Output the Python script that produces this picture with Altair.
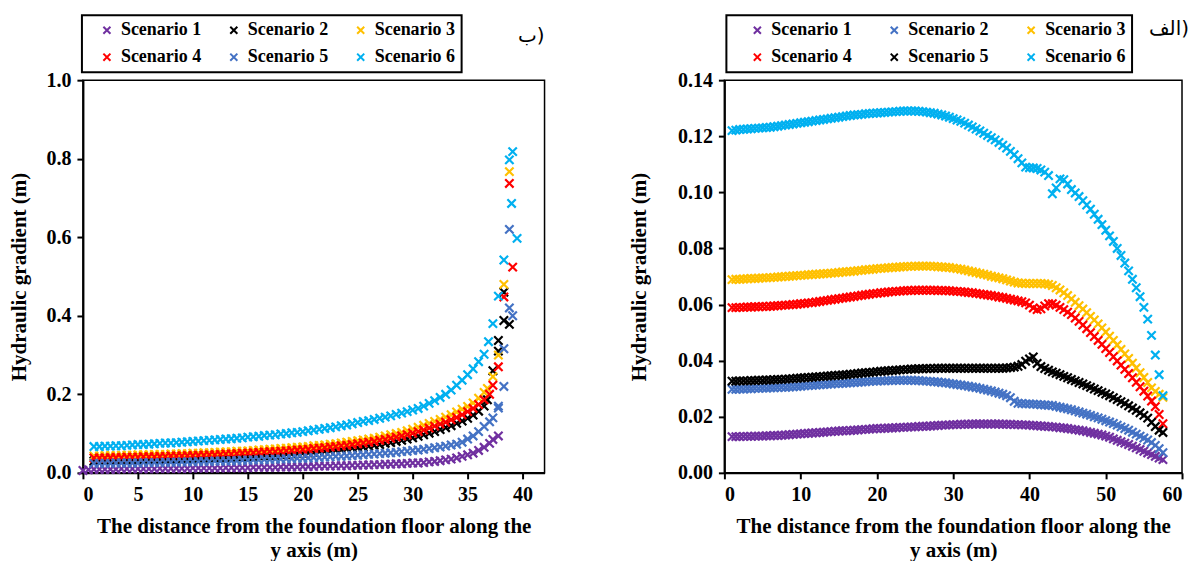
import altair as alt
import pandas as pd

SCEN = ["Scenario 1", "Scenario 2", "Scenario 3", "Scenario 4", "Scenario 5", "Scenario 6"]
LEFT_COLORS = ["#7030A0", "#000000", "#FFC000", "#FF0000", "#4472C4", "#00B0F0"]
RIGHT_COLORS = ["#7030A0", "#4472C4", "#FFC000", "#FF0000", "#000000", "#00B0F0"]

# ---------------- Left panel (ب) ----------------
LEFT_X = [1, 1.5, 2, 2.5, 3, 3.5, 4, 4.5, 5, 5.5,
          6, 6.5, 7, 7.5, 8, 8.5, 9, 9.5, 10, 10.5,
          11, 11.5, 12, 12.5, 13, 13.5, 14, 14.5, 15, 15.5,
          16, 16.5, 17, 17.5, 18, 18.5, 19, 19.5, 20, 20.5,
          21, 21.5, 22, 22.5, 23, 23.5, 24, 24.5, 25, 25.5,
          26, 26.5, 27, 27.5, 28, 28.5, 29, 29.5, 30, 30.5,
          31, 31.5, 32, 32.5, 33, 33.5, 34, 34.5, 35, 35.5,
          36, 36.5]

L1 = [.009, .009, .009, .009, .009, .010, .010, .010, .010, .010,
      .010, .010, .011, .011, .011, .011, .011, .011, .012, .012,
      .012, .012, .012, .012, .013, .013, .013, .013, .013, .014,
      .014, .014, .014, .014, .015, .015, .015, .015, .016, .016,
      .016, .017, .017, .017, .018, .018, .018, .019, .019, .020,
      .020, .021, .021, .022, .022, .023, .023, .024, .025, .025,
      .026, .028, .029, .031, .033, .035, .038, .042, .046, .050,
      .057, .065]
L1_TX = [0, 0.5, 37.0, 37.3, 37.8]
L1_TY = [0.006, 0.008, 0.075, 0.085, 0.094]

L2 = [.030, .030, .030, .031, .031, .031, .031, .032, .032, .032,
      .033, .033, .033, .034, .034, .034, .035, .035, .036, .036,
      .037, .037, .038, .038, .039, .039, .040, .041, .041, .042,
      .043, .044, .044, .045, .046, .047, .048, .049, .050, .051,
      .052, .054, .055, .056, .058, .059, .061, .063, .064, .066,
      .068, .070, .072, .075, .077, .080, .083, .086, .089, .093,
      .097, .101, .105, .110, .115, .120, .126, .132, .139, .147,
      .157, .170]
L2_TX = [36.8, 37.3, 37.8, 37.8, 38.3, 38.3, 38.8]
L2_TY = [0.186, 0.26, 0.31, 0.337, 0.388, 0.46, 0.378]

L3 = [.043, .043, .044, .044, .044, .045, .045, .045, .046, .046,
      .046, .047, .047, .047, .048, .048, .049, .049, .050, .050,
      .051, .051, .052, .053, .053, .054, .055, .055, .056, .057,
      .058, .059, .060, .061, .062, .063, .064, .065, .066, .067,
      .069, .070, .071, .073, .074, .076, .078, .080, .082, .084,
      .086, .088, .091, .094, .097, .100, .103, .107, .111, .116,
      .121, .126, .131, .136, .142, .148, .155, .162, .169, .178,
      .190, .205]
L3_TX = [36.8, 37.3, 37.8, 38.3, 38.8]
L3_TY = [0.215, 0.245, 0.30, 0.48, 0.767]

L4 = [.038, .038, .038, .039, .039, .039, .040, .040, .040, .041,
      .041, .041, .042, .042, .043, .043, .043, .044, .044, .045,
      .045, .046, .046, .047, .048, .048, .049, .050, .050, .051,
      .052, .053, .054, .054, .055, .056, .057, .058, .059, .060,
      .062, .063, .064, .066, .067, .069, .070, .072, .074, .076,
      .078, .080, .083, .085, .088, .091, .094, .097, .101, .105,
      .109, .114, .119, .124, .129, .135, .141, .148, .156, .164,
      .174, .186]
L4_TX = [37.0, 37.3, 37.8, 38.3, 38.8, 39.1]
L4_TY = [0.20, 0.223, 0.27, 0.448, 0.737, 0.524]

L5 = [.024, .024, .024, .024, .025, .025, .025, .025, .025, .026,
      .026, .026, .026, .027, .027, .027, .028, .028, .028, .029,
      .029, .029, .030, .030, .030, .031, .031, .032, .032, .033,
      .033, .034, .034, .035, .035, .036, .036, .037, .037, .038,
      .039, .039, .040, .041, .042, .042, .043, .044, .045, .046,
      .047, .048, .049, .050, .051, .052, .054, .055, .057, .058,
      .060, .062, .064, .066, .068, .071, .073, .078, .086, .094,
      .105, .118]
L5_TX = [37.0, 37.3, 37.8, 37.8, 38.3, 38.3, 38.8, 39.1, 38.8]
L5_TY = [0.13, 0.14, 0.165, 0.17, 0.22, 0.316, 0.42, 0.40, 0.62]

L6 = [.067, .067, .068, .068, .069, .069, .070, .071, .072, .072,
      .073, .074, .075, .076, .076, .077, .078, .079, .080, .081,
      .082, .083, .084, .085, .086, .087, .088, .089, .091, .092,
      .093, .095, .096, .097, .099, .100, .102, .103, .105, .107,
      .109, .111, .113, .115, .117, .120, .122, .125, .128, .131,
      .133, .136, .139, .142, .145, .149, .152, .156, .160, .164,
      .170, .177, .184, .192, .200, .211, .223, .236, .250, .265,
      .283, .302]
L6_TX = [36.9, 37.3, 37.8, 38.3, 39.0, 39.5, 38.8, 39.1]
L6_TY = [0.334, 0.38, 0.45, 0.542, 0.686, 0.597, 0.797, 0.818]

# ---------------- Right panel (الف) ----------------
RIGHT_X = [1, 1.5, 2, 2.5, 3, 3.5, 4, 4.5, 5, 5.5,
           6, 6.5, 7, 7.5, 8, 8.5, 9, 9.5, 10, 10.5,
           11, 11.5, 12, 12.5, 13, 13.5, 14, 14.5, 15, 15.5,
           16, 16.5, 17, 17.5, 18, 18.5, 19, 19.5, 20, 20.5,
           21, 21.5, 22, 22.5, 23, 23.5, 24, 24.5, 25, 25.5,
           26, 26.5, 27, 27.5, 28, 28.5, 29, 29.5, 30, 30.5,
           31, 31.5, 32, 32.5, 33, 33.5, 34, 34.5, 35, 35.5,
           36, 36.5, 37, 37.5, 38, 38.5, 39, 39.5, 40, 40.5,
           41, 41.5, 42, 42.5, 43, 43.5, 44, 44.5, 45, 45.5,
           46, 46.5, 47, 47.5, 48, 48.5, 49, 49.5, 50, 50.5,
           51, 51.5, 52, 52.5, 53, 53.5, 54, 54.5, 55, 55.5,
           56, 56.5, 57, 57.5]

R1 = [.0129, .0129, .0129, .0130, .0130, .0130, .0131, .0131, .0131, .0132,
      .0132, .0133, .0133, .0134, .0135, .0136, .0137, .0138, .0139, .0140,
      .0141, .0142, .0143, .0144, .0145, .0146, .0147, .0148, .0149, .0150,
      .0150, .0151, .0152, .0153, .0154, .0155, .0156, .0157, .0158, .0158,
      .0159, .0160, .0160, .0161, .0162, .0162, .0163, .0164, .0164, .0165,
      .0166, .0166, .0167, .0168, .0169, .0170, .0170, .0171, .0172, .0172,
      .0173, .0173, .0173, .0174, .0174, .0174, .0174, .0174, .0174, .0174,
      .0174, .0173, .0173, .0173, .0172, .0172, .0171, .0171, .0170, .0169,
      .0168, .0167, .0166, .0165, .0164, .0163, .0161, .0160, .0158, .0156,
      .0154, .0152, .0150, .0147, .0144, .0141, .0138, .0135, .0131, .0127,
      .0121, .0116, .0111, .0106, .0101, .0095, .0089, .0083, .0077, .0071,
      .0065, .0059, .0053, .0047]

R2 = [.0298, .0298, .0299, .0299, .0300, .0300, .0301, .0301, .0302, .0302,
      .0303, .0303, .0304, .0305, .0305, .0306, .0307, .0308, .0309, .0310,
      .0311, .0312, .0313, .0314, .0315, .0316, .0317, .0318, .0318, .0319,
      .0320, .0321, .0322, .0323, .0324, .0325, .0326, .0327, .0327, .0328,
      .0328, .0329, .0329, .0330, .0330, .0330, .0330, .0330, .0329, .0329,
      .0328, .0327, .0326, .0325, .0324, .0322, .0321, .0319, .0317, .0315,
      .0313, .0311, .0309, .0306, .0304, .0301, .0298, .0295, .0292, .0288,
      .0284, .0280, .0275, .0268, .0255, .0248, .0247, .0246, .0246, .0245,
      .0244, .0243, .0242, .0241, .0240, .0237, .0234, .0231, .0228, .0225,
      .0221, .0217, .0213, .0209, .0205, .0200, .0196, .0191, .0186, .0181,
      .0176, .0170, .0164, .0158, .0152, .0145, .0138, .0131, .0124, .0117,
      .0108, .0098, .0086, .0072]

R3 = [.0689, .0690, .0690, .0691, .0692, .0693, .0693, .0694, .0695, .0695,
      .0696, .0697, .0698, .0699, .0700, .0701, .0702, .0703, .0704, .0705,
      .0706, .0707, .0708, .0709, .0710, .0711, .0712, .0713, .0714, .0716,
      .0717, .0718, .0719, .0721, .0722, .0724, .0725, .0726, .0728, .0729,
      .0730, .0731, .0732, .0733, .0734, .0735, .0736, .0736, .0737, .0737,
      .0737, .0737, .0737, .0736, .0735, .0734, .0733, .0732, .0730, .0728,
      .0726, .0723, .0720, .0717, .0714, .0711, .0708, .0705, .0701, .0698,
      .0695, .0692, .0688, .0684, .0680, .0677, .0676, .0675, .0675, .0675,
      .0675, .0675, .0674, .0672, .0668, .0660, .0652, .0642, .0632, .0620,
      .0608, .0596, .0584, .0571, .0558, .0545, .0531, .0517, .0502, .0487,
      .0472, .0456, .0440, .0424, .0408, .0391, .0374, .0357, .0340, .0322,
      .0303, .0290, .0280, .0269]

R4 = [.0589, .0589, .0590, .0590, .0591, .0591, .0592, .0592, .0593, .0593,
      .0594, .0595, .0596, .0597, .0598, .0599, .0600, .0601, .0603, .0604,
      .0606, .0607, .0609, .0611, .0613, .0615, .0617, .0619, .0621, .0623,
      .0625, .0627, .0629, .0631, .0633, .0635, .0637, .0639, .0640, .0642,
      .0643, .0645, .0646, .0647, .0648, .0649, .0650, .0650, .0651, .0651,
      .0651, .0651, .0651, .0651, .0650, .0650, .0650, .0649, .0648, .0647,
      .0646, .0645, .0643, .0642, .0640, .0638, .0636, .0634, .0632, .0630,
      .0627, .0625, .0622, .0619, .0616, .0613, .0610, .0606, .0598, .0588,
      .0582, .0585, .0595, .0603, .0603, .0598, .0590, .0582, .0573, .0564,
      .0552, .0540, .0527, .0514, .0500, .0486, .0472, .0458, .0443, .0429,
      .0414, .0399, .0384, .0369, .0354, .0339, .0323, .0307, .0291, .0274,
      .0256, .0236, .0208, .0175]

R5 = [.0327, .0327, .0328, .0328, .0328, .0329, .0329, .0330, .0330, .0331,
      .0331, .0332, .0333, .0333, .0334, .0335, .0336, .0337, .0338, .0339,
      .0340, .0341, .0342, .0343, .0344, .0345, .0346, .0347, .0348, .0349,
      .0350, .0352, .0353, .0354, .0356, .0357, .0358, .0359, .0361, .0362,
      .0363, .0364, .0365, .0366, .0367, .0368, .0369, .0370, .0370, .0371,
      .0371, .0372, .0372, .0372, .0373, .0373, .0373, .0373, .0373, .0373,
      .0373, .0373, .0373, .0373, .0373, .0373, .0373, .0373, .0373, .0373,
      .0373, .0373, .0374, .0375, .0377, .0380, .0386, .0398, .0406, .0413,
      .0390, .0379, .0372, .0366, .0360, .0355, .0350, .0344, .0339, .0333,
      .0328, .0322, .0317, .0311, .0305, .0299, .0293, .0287, .0281, .0275,
      .0268, .0261, .0254, .0247, .0239, .0231, .0223, .0214, .0205, .0195,
      .0180, .0165, .0152, .0144]

R6 = [.1220, .1222, .1224, .1225, .1226, .1227, .1228, .1229, .1230, .1231,
      .1232, .1234, .1236, .1238, .1240, .1242, .1244, .1246, .1248, .1250,
      .1252, .1254, .1256, .1258, .1260, .1262, .1264, .1266, .1268, .1270,
      .1272, .1274, .1276, .1277, .1278, .1280, .1281, .1282, .1283, .1284,
      .1285, .1286, .1287, .1288, .1289, .1290, .1290, .1290, .1290, .1289,
      .1288, .1286, .1284, .1282, .1279, .1276, .1272, .1268, .1263, .1258,
      .1253, .1247, .1240, .1233, .1226, .1219, .1211, .1203, .1195, .1187,
      .1178, .1168, .1158, .1146, .1134, .1120, .1105, .1090, .1088, .1087,
      .1085, .1080, .1072, .1060, .0995, .1016, .1048, .1045, .1030, .1010,
      .0998, .0985, .0970, .0955, .0940, .0922, .0904, .0885, .0865, .0845,
      .0825, .0800, .0775, .0748, .0720, .0690, .0660, .0628, .0590, .0548,
      .0490, .0420, .0350, .0275]

LEFT_XTICKS = [0, 5, 10, 15, 20, 25, 30, 35, 40]
LEFT_YTICKS = [0.0, 0.2, 0.4, 0.6, 0.8, 1.0]
RIGHT_XTICKS = [0, 10, 20, 30, 40, 50, 60]
RIGHT_YTICKS = [0.0, 0.02, 0.04, 0.06, 0.08, 0.10, 0.12, 0.14]

X_TITLE = ["The distance from the foundation floor along the", "y axis (m)"]
Y_TITLE = "Hydraulic gradient (m)"
X_SHAPE = "M-1,-1L1,1M1,-1L-1,1"
SERIF = "Liberation Serif"


def build_df(series):
    rows = []
    for k, (name, xs, ys) in enumerate(series):
        for x, y in zip(xs, ys):
            rows.append({"series": name, "x": x, "y": y, "k": k})
    return pd.DataFrame(rows)


left_df = build_df([
    (SCEN[0], L1_TX[:2] + LEFT_X + L1_TX[2:], L1_TY[:2] + L1 + L1_TY[2:]),
    (SCEN[1], LEFT_X + L2_TX, L2 + L2_TY),
    (SCEN[2], LEFT_X + L3_TX, L3 + L3_TY),
    (SCEN[3], LEFT_X + L4_TX, L4 + L4_TY),
    (SCEN[4], LEFT_X + L5_TX, L5 + L5_TY),
    (SCEN[5], LEFT_X + L6_TX, L6 + L6_TY),
])
right_df = build_df([(SCEN[i], RIGHT_X, s) for i, s in enumerate([R1, R2, R3, R4, R5, R6])])


def panel(df, colors, xdom, xticks, ydom, yticks, yfmt, w, h, lx, ly, sym_off, colpad,
          ttl, ttl_dx, ttl_dy, ytp):
    legend = alt.Legend(
        title=None, orient="none", legendX=lx, legendY=ly, columns=3, direction="horizontal",
        symbolType=X_SHAPE, symbolSize=50, symbolStrokeWidth=2, symbolOffset=sym_off,
        columnPadding=colpad, rowPadding=9, labelOffset=5,
        labelFont=SERIF, labelFontSize=18, labelFontWeight="bold", labelColor="black",
        strokeColor="black", padding=6,
    )
    return alt.Chart(df).mark_point(
        shape=X_SHAPE, filled=False, size=70, strokeWidth=2.2, opacity=1
    ).encode(
        x=alt.X("x:Q", scale=alt.Scale(domain=xdom, nice=False, zero=False),
                axis=alt.Axis(values=xticks, format="d", title=X_TITLE)),
        y=alt.Y("y:Q", scale=alt.Scale(domain=ydom, nice=False),
                axis=alt.Axis(values=yticks, format=yfmt, title=Y_TITLE, titlePadding=ytp)),
        color=alt.Color("series:N", scale=alt.Scale(domain=SCEN, range=colors), legend=legend),
    ).properties(
        width=w, height=h,
        title=alt.TitleParams(text=ttl, anchor="end", frame="group", font="DejaVu Sans",
                              fontSize=20, fontWeight="normal", color="black", dx=ttl_dx, dy=ttl_dy),
    )


left = panel(left_df, LEFT_COLORS, [0, 42], LEFT_XTICKS, [0, 1.0], LEFT_YTICKS, ".1f",
             462, 393, -1, -65, 10, 13, "ب)", 0, 36, 16)
right = panel(right_df, RIGHT_COLORS, [0, 60], RIGHT_XTICKS, [0, 0.14], RIGHT_YTICKS, ".2f",
              458, 393, 2, -65, 16, 17, "الف)", 7, 29, 28)

chart = alt.hconcat(left, right, spacing=82).resolve_scale(color="independent").resolve_legend(
    color="independent"
).properties(
    padding={"left": 8, "top": 13, "right": 5, "bottom": 5}
).configure_axis(
    domainColor="black", domainWidth=2, tickColor="black", tickWidth=2, tickSize=6,
    labelFont=SERIF, labelFontSize=20, labelFontWeight="bold", labelColor="black", labelPadding=6,
    titleFont=SERIF, titleFontSize=21, titleFontWeight="bold", titleColor="black",
    grid=False, titleLineHeight=24,
).configure_axisX(titlePadding=11).configure_view(
    stroke="black", strokeWidth=1.5
).configure_legend(strokeWidth=2)

chart.save("out.html", embed_options={"renderer": "svg", "actions": False})
